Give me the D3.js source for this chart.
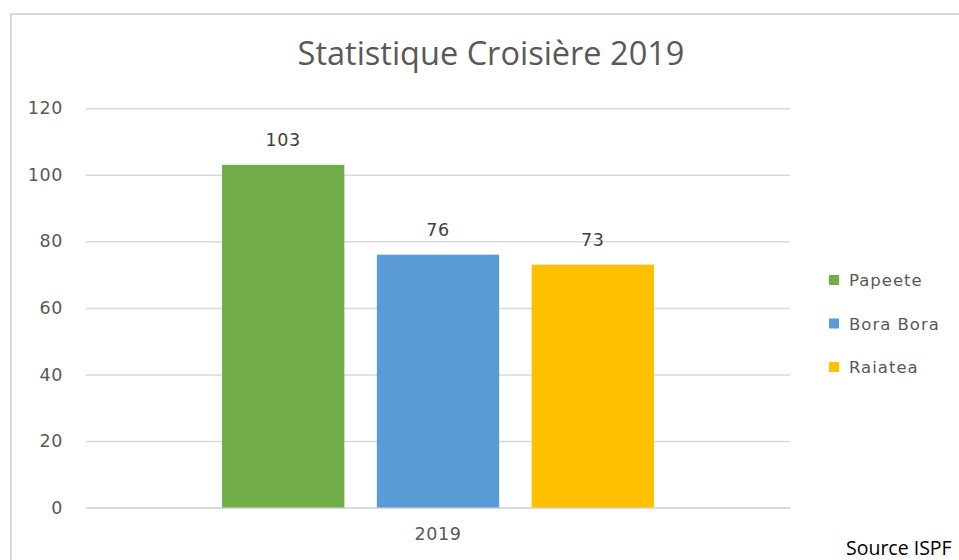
<!DOCTYPE html>
<html>
<head>
<meta charset="utf-8">
<script src="https://cdn.jsdelivr.net/npm/d3@7"></script>
<style>
  body { margin: 0; background: #fff; overflow: hidden; }
  svg { display: block; }
</style>
</head>
<body>
<div id="plot"></div>
<script>
// data
const categories = ["2019"]
const series = ["Papeete", "Bora Bora", "Raiatea"]
const values = [103, 76, 73]
const colors = ["#70ad47", "#5b9bd5", "#ffc000"]
const yTicks = [0, 20, 40, 60, 80, 100, 120]

window.addEventListener("load", main)

function main(){
  let svg = d3.select("#plot")
      .append("svg")
      .attr("width", 959)
      .attr("height", 560)

  // chart frame: only top and left edges are in view
  svg.append("path")
      .attr("d", "M11,560 V14 H959")
      .attr("fill", "none")
      .attr("stroke", "#d9d9d9")
      .attr("stroke-width", 2)

  // title
  svg.append("text")
      .attr("x", 491).attr("y", 65)
      .attr("text-anchor", "middle")
      .attr("font-family", "Open Sans")
      .attr("font-size", 32.5)
      .attr("fill", "#595959")
      .text("Statistique Croisière 2019")

  // scales
  let x0 = d3.scaleBand()
      .domain(categories)
      .range([86, 790])
      .paddingOuter(0.315)

  let x1 = d3.scaleBand()
      .domain(series)
      .range([0, x0.bandwidth()])
      .paddingInner(0.21)

  let y = d3.scaleLinear()
      .domain([0, 120])
      .range([507.5, 108.3])

  // gridlines + y labels
  let yAxis = svg.append("g")
      .attr("transform", "translate(86,0)")
      .call(d3.axisLeft(y).tickValues(yTicks).tickSize(-704).tickPadding(23))
  yAxis.select(".domain").remove()
  yAxis.selectAll(".tick line").attr("stroke", "#d9d9d9").attr("stroke-width", 1.5)
  yAxis.selectAll(".tick text")
      .attr("font-family", "DejaVu Sans")
      .attr("font-size", 17.5)
      .attr("letter-spacing", 0.6)
      .attr("fill", "#595959")

  // x axis
  let xAxis = svg.append("g")
      .attr("transform", "translate(0,507.5)")
      .call(d3.axisBottom(x0).tickSize(0).tickPadding(20))
  xAxis.select(".domain").attr("stroke", "#d9d9d9").attr("stroke-width", 1.5)
  xAxis.selectAll(".tick text")
      .attr("font-family", "DejaVu Sans")
      .attr("font-size", 17.5)
      .attr("letter-spacing", 0.6)
      .attr("fill", "#595959")

  // bars
  let group = svg.append("g")
      .attr("transform", "translate(" + x0(categories[0]) + ",0)")

  group.selectAll("rect")
      .data(series)
      .enter()
      .append("rect")
      .attr("x", function(d){ return x1(d) })
      .attr("y", function(d, i){ return y(values[i]) })
      .attr("width", x1.bandwidth())
      .attr("height", function(d, i){ return y(0) - y(values[i]) })
      .attr("fill", function(d, i){ return colors[i] })

  // value labels
  group.selectAll(".val")
      .data(series)
      .enter()
      .append("text")
      .attr("class", "val")
      .attr("x", function(d){ return x1(d) + x1.bandwidth() / 2 })
      .attr("y", function(d, i){ return y(values[i]) - 19 })
      .attr("text-anchor", "middle")
      .attr("font-family", "DejaVu Sans")
      .attr("font-size", 17.5)
      .attr("letter-spacing", 0.6)
      .attr("fill", "#404040")
      .text(function(d, i){ return values[i] })

  // legend
  let legend = svg.append("g")
      .selectAll("g")
      .data(series)
      .enter()
      .append("g")
      .attr("transform", function(d, i){ return "translate(829," + (280 + i * 43.5) + ")" })

  legend.append("rect")
      .attr("x", 0).attr("y", -5)
      .attr("width", 10).attr("height", 10)
      .attr("fill", function(d, i){ return colors[i] })

  legend.append("text")
      .attr("x", 20).attr("y", 6)
      .attr("font-family", "DejaVu Sans")
      .attr("font-size", 16.5)
      .attr("letter-spacing", 1)
      .attr("fill", "#595959")
      .text(function(d){ return d })

  // source note
  svg.append("text")
      .attr("x", 846).attr("y", 555)
      .attr("font-family", "Open Sans")
      .attr("font-size", 19.5)
      .attr("fill", "#000")
      .text("Source ISPF")
}
</script>
</body>
</html>
